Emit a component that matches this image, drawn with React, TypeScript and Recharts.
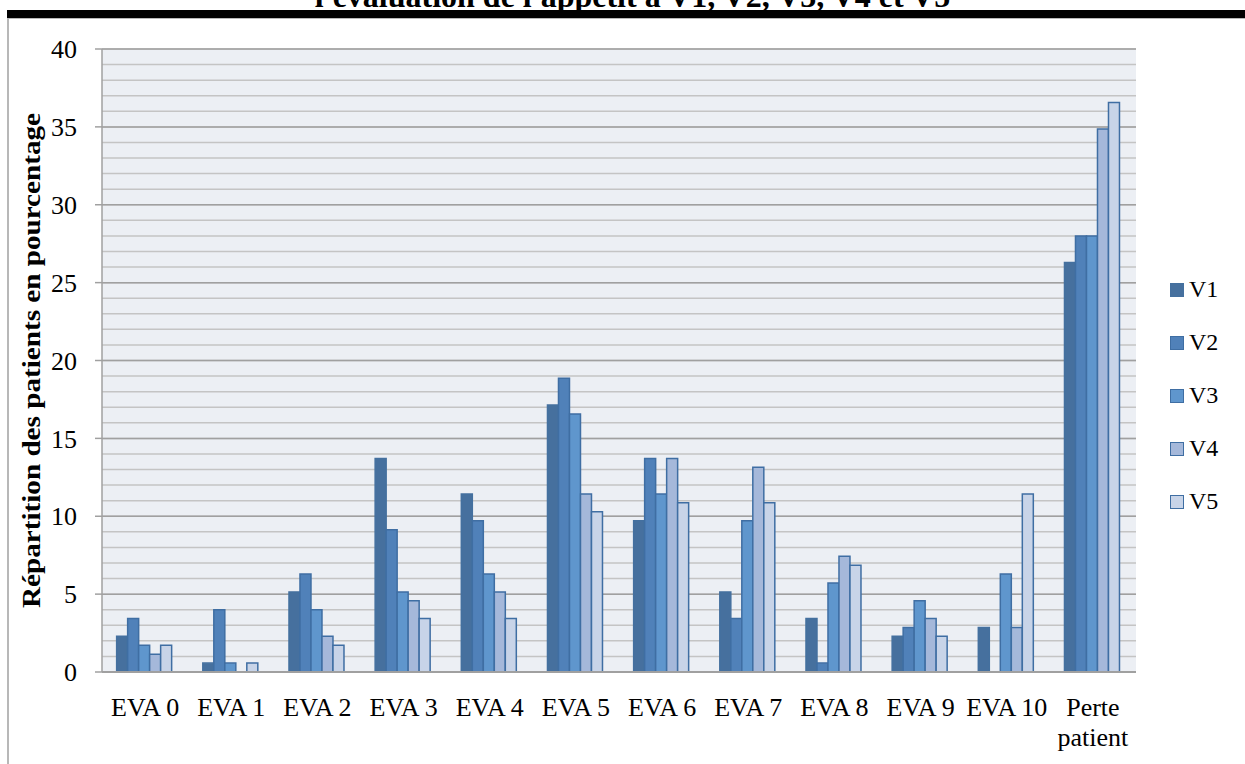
import { Bar, BarChart, CartesianGrid, XAxis, YAxis } from 'recharts';

const categories = ['EVA 0', 'EVA 1', 'EVA 2', 'EVA 3', 'EVA 4', 'EVA 5', 'EVA 6', 'EVA 7', 'EVA 8', 'EVA 9', 'EVA 10', 'Perte patient'];
const v1 = [2.29, 0.57, 5.14, 13.71, 11.43, 17.14, 9.71, 5.14, 3.43, 2.29, 2.86, 26.29];
const v2 = [3.43, 4.0, 6.29, 9.14, 9.71, 18.86, 13.71, 3.43, 0.57, 2.86, 0, 28.0];
const v3 = [1.71, 0.57, 4.0, 5.14, 6.29, 16.57, 11.43, 9.71, 5.71, 4.57, 6.29, 28.0];
const v4 = [1.14, 0, 2.29, 4.57, 5.14, 11.43, 13.71, 13.14, 7.43, 3.43, 2.86, 34.86];
const v5 = [1.71, 0.57, 1.71, 3.43, 3.43, 10.29, 10.86, 10.86, 6.86, 2.29, 11.43, 36.57];
const majorTicks = [0, 5, 10, 15, 20, 25, 30, 35, 40];
const minorTicks = [0, 1, 2, 3, 4, 5, 6, 7, 8, 9, 10, 11, 12, 13, 14, 15, 16, 17, 18, 19, 20, 21, 22, 23, 24, 25, 26, 27, 28, 29, 30, 31, 32, 33, 34, 35, 36, 37, 38, 39, 40];

const seriesNames = ['V1', 'V2', 'V3', 'V4', 'V5'];
const fills = ['#46709e', '#5081b9', '#5f96cd', '#a5b8da', '#c8d4e8'];
const strokes = ['#44709f', '#3f6ea3', '#3f6ea3', '#3f6ea3', '#3f6ea3'];

const data = categories.map((name, i) => ({ name, V1: v1[i], V2: v2[i], V3: v3[i], V4: v4[i], V5: v5[i] }));

const font = '"Liberation Serif", serif';

function CategoryTick({ x, y, payload }: any) {
    const label: string = payload.value;
    const lines = label.length > 7 ? label.split(' ') : [label];
    return (
        <text x={x} y={y} textAnchor="middle" fontFamily={font} fontSize={26} fill="#000">
            {lines.map((l, i) => (
                <tspan key={i} x={x} dy={i === 0 ? 44 : 30}>{l}</tspan>
            ))}
        </text>
    );
}

function YLabel({ viewBox }: any) {
    const cy = viewBox.y + viewBox.height / 2;
    return (
        <text x={40} y={cy} transform={`rotate(-90, 40, ${cy})`} textAnchor="middle" fontFamily={font} fontSize={26} fontWeight="bold" fill="#000" textLength={495} lengthAdjust="spacingAndGlyphs">
            Répartition des patients en pourcentage
        </text>
    );
}

export default function App() {
    return (
        <div style={{ position: 'absolute', left: 0, top: 0, width: 1245, height: 764, overflow: 'hidden', background: '#fff' }}>
            <div style={{ position: 'absolute', left: 0, right: 0, top: -20, lineHeight: 1, textAlign: 'center', fontFamily: font, fontWeight: 'bold', fontSize: 32, paddingLeft: 20, whiteSpace: 'nowrap' }}>
                l'évaluation de l'appétit à V1, V2, V3, V4 et V5
            </div>
            <div style={{ position: 'absolute', left: 7, right: 0, top: 10, height: 8, background: '#000' }} />
            <div style={{ position: 'absolute', left: 7, top: 18, width: 2, bottom: 0, background: '#b8b8b8' }} />
            <div style={{ position: 'absolute', left: 7, top: 18, right: 0, height: 1, background: '#b8b8b8' }} />
            <div style={{ position: 'absolute', left: 0, top: 0 }}>
                <BarChart width={1245} height={764} data={data} margin={{ top: 49, right: 109, bottom: 62, left: 0 }} barCategoryGap="17%" barGap={0}>
                    <CartesianGrid vertical={false} horizontalValues={minorTicks} stroke="#c4c4c4" strokeWidth={1.5} fill="#eceff4" fillOpacity={1} />
                    <CartesianGrid vertical={false} horizontalValues={majorTicks} stroke="#a0a0a0" strokeWidth={1.5} />
                    <YAxis
                        domain={[0, 40]}
                        ticks={majorTicks}
                        interval={0}
                        width={102}
                        tickSize={7}
                        tickMargin={18}
                        stroke="#a0a0a0"
                        strokeWidth={1.5}
                        tick={{ fontFamily: font, fontSize: 26, fill: '#000' }}
                        label={<YLabel />}
                    />
                    <XAxis dataKey="name" height={30} tickSize={0} tickMargin={0} tick={<CategoryTick />} interval={0} stroke="#a0a0a0" strokeWidth={2} />
                    {seriesNames.map((s, i) => (
                        <Bar key={s} dataKey={s} fill={fills[i]} stroke={strokes[i]} strokeWidth={1.5} isAnimationActive={false} />
                    ))}
                </BarChart>
            </div>
            <div style={{ position: 'absolute', left: 1170, top: 263, fontFamily: font, fontSize: 24 }}>
                {seriesNames.map((s, i) => (
                    <div key={s} style={{ display: 'flex', alignItems: 'center', height: 53 }}>
                        <div style={{ width: 12, height: 12, background: fills[i], border: `1.5px solid ${strokes[i]}`, marginRight: 5 }} />
                        <span>{s}</span>
                    </div>
                ))}
            </div>
        </div>
    );
}
